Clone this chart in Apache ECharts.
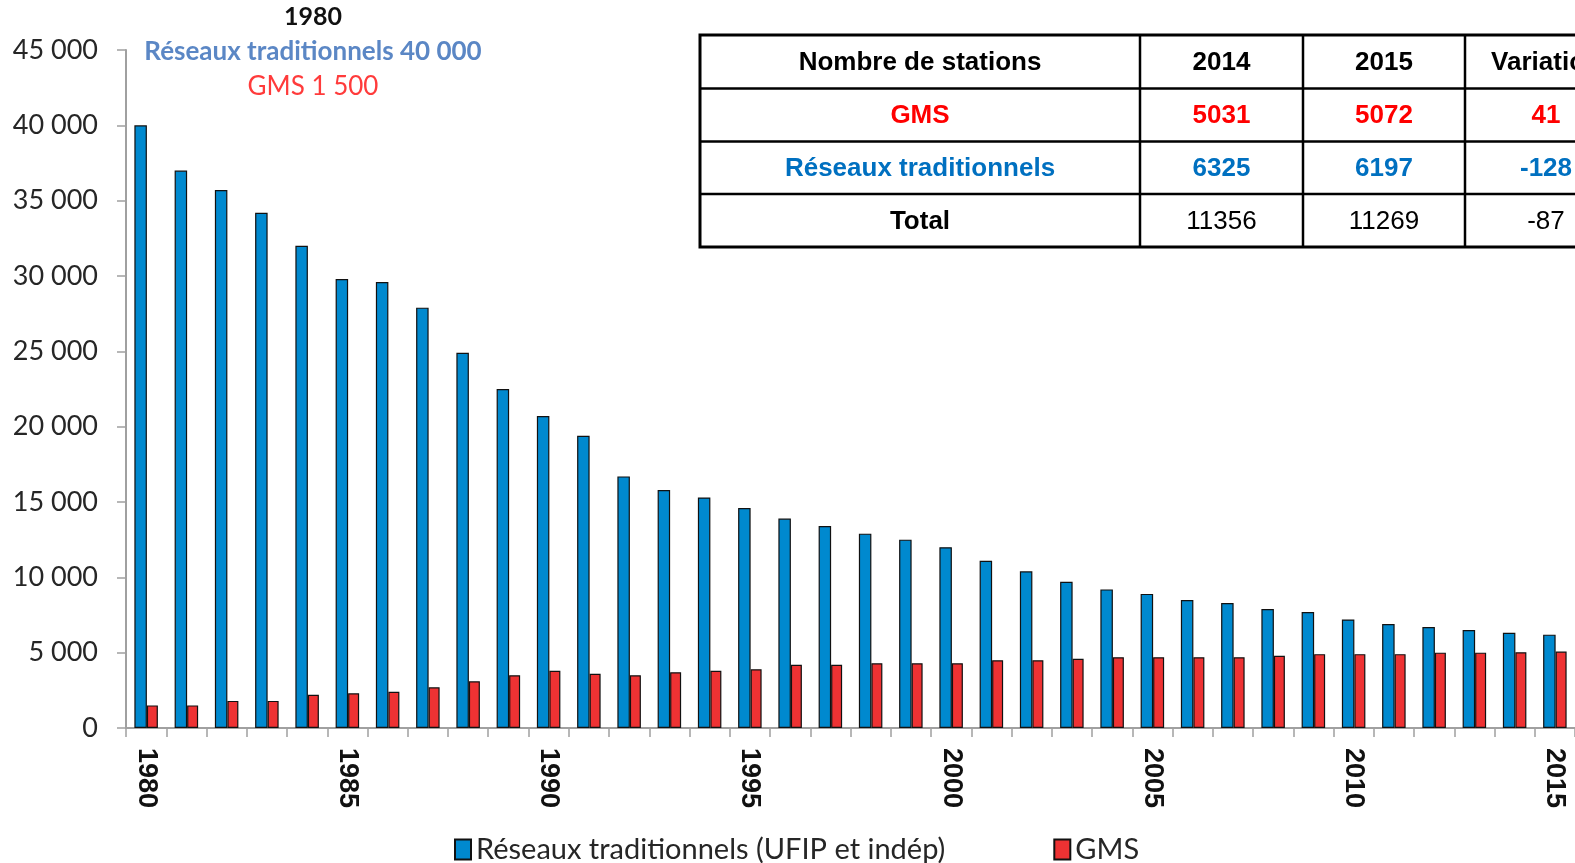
<!DOCTYPE html>
<html>
<head>
<meta charset="utf-8">
<title>Nombre de stations</title>
<script src="https://cdn.jsdelivr.net/npm/echarts@6/dist/echarts.min.js"></script>
<style>
  html, body { margin: 0; padding: 0; background: #fff; }
  #chart { width: 1575px; height: 863px; }
</style>
</head>
<body>
<div id="chart"></div>
<script>
// années 1980 -> 2015
const years = []
for (let y = 1980; y <= 2015; y++) years.push(String(y))

// réseaux traditionnels (UFIP et indép)
const reseaux = [40000, 37000, 35700, 34200, 32000, 29800, 29600, 27900, 24900, 22500,
  20700, 19400, 16700, 15800, 15300, 14600, 13900, 13400, 12900, 12500,
  12000, 11100, 10400, 9700, 9200, 8900, 8500, 8300, 7900, 7700,
  7200, 6900, 6700, 6500, 6325, 6197]

// grandes et moyennes surfaces
const gms = [1500, 1500, 1800, 1800, 2200, 2300, 2400, 2700, 3100, 3500,
  3800, 3600, 3500, 3700, 3800, 3900, 4200, 4200, 4300, 4300,
  4300, 4500, 4500, 4600, 4700, 4700, 4700, 4700, 4800, 4900,
  4900, 4900, 5000, 5000, 5031, 5072]

// tableau en haut à droite
const tableHeader = ['Nombre de stations', '2014', '2015', 'Variation']
const tableRowGms = ['GMS', '5031', '5072', '41']
const tableRowReseaux = ['Réseaux traditionnels', '6325', '6197', '-128']
const tableRowTotal = ['Total', '11356', '11269', '-87']

const BLUE = '#0089CF'
const RED = '#EE3233'

const chart = echarts.init(document.getElementById('chart'))

// construction du tableau avec des éléments graphic
function buildTable() {
  const colX = [700, 1140, 1303, 1465, 1627]
  const rowY = [35, 88.5, 141.5, 194, 247]
  const els = []
  const rows = [
    { cells: tableHeader, colors: ['#000', '#000', '#000', '#000'], weights: ['bold', 'bold', 'bold', 'bold'] },
    { cells: tableRowGms, colors: ['#FF0000', '#FF0000', '#FF0000', '#FF0000'], weights: ['bold', 'bold', 'bold', 'bold'] },
    { cells: tableRowReseaux, colors: ['#0070C0', '#0070C0', '#0070C0', '#0070C0'], weights: ['bold', 'bold', 'bold', 'bold'] },
    { cells: tableRowTotal, colors: ['#000', '#000', '#000', '#000'], weights: ['bold', 'normal', 'normal', 'normal'] },
  ]
  // fond blanc
  els.push({
    type: 'rect',
    shape: { x: colX[0], y: rowY[0], width: colX[4] - colX[0], height: rowY[4] - rowY[0] },
    style: { fill: '#fff', stroke: '#000', lineWidth: 3 },
  })
  // lignes horizontales
  for (let i = 1; i < rowY.length - 1; i++) {
    els.push({
      type: 'line',
      shape: { x1: colX[0], y1: rowY[i], x2: colX[4], y2: rowY[i] },
      style: { stroke: '#000', lineWidth: 2.5 },
    })
  }
  // lignes verticales
  for (let j = 1; j < colX.length - 1; j++) {
    els.push({
      type: 'line',
      shape: { x1: colX[j], y1: rowY[0], x2: colX[j], y2: rowY[4] },
      style: { stroke: '#000', lineWidth: 2.5 },
    })
  }
  rows.forEach((row, i) => {
    row.cells.forEach((txt, j) => {
      els.push({
        type: 'text',
        x: (colX[j] + colX[j + 1]) / 2,
        y: (rowY[i] + rowY[i + 1]) / 2 + 1,
        style: {
          text: txt,
          fill: row.colors[j],
          font: row.weights[j] + ' 26px "Liberation Sans", Arial, sans-serif',
          align: 'center',
          verticalAlign: 'middle',
        },
      })
    })
  })
  return els
}

const option = {
  animation: false,
  grid: {
    left: 126,
    right: 0,
    top: 50,
    bottom: 135,
    containLabel: false,
  },
  legend: {
    left: 449,
    top: 830,
    icon: 'rect',
    itemWidth: 16,
    itemHeight: 20,
    itemGap: 108,
    textStyle: {
      fontFamily: 'Lato, "Open Sans", sans-serif',
      fontSize: 29,
      color: '#262626',
    },
    data: ['Réseaux traditionnels (UFIP et indép)', 'GMS'],
  },
  xAxis: {
    type: 'category',
    data: years,
    boundaryGap: true,
    axisLine: { lineStyle: { color: '#A0A0A0', width: 2 } },
    axisTick: {
      show: true,
      interval: 0,
      length: 9,
      lineStyle: { color: '#A0A0A0', width: 1.5 },
    },
    axisLabel: {
      interval: 4,
      rotate: -90,
      margin: 20,
      color: '#111',
      fontSize: 27,
      fontWeight: 'bold',
      fontFamily: '"Liberation Sans", Arial, sans-serif',
    },
  },
  yAxis: {
    type: 'value',
    min: 0,
    max: 45000,
    interval: 5000,
    splitLine: { show: false },
    axisLine: { show: true, lineStyle: { color: '#A0A0A0', width: 2 } },
    axisTick: { show: true, length: 9, lineStyle: { color: '#A0A0A0', width: 1.5 } },
    axisLabel: {
      margin: 28,
      color: '#262626',
      fontSize: 27,
      fontFamily: 'Lato, "Open Sans", sans-serif',
      formatter(v) {
        return String(v).replace(/\B(?=(\d{3})+(?!\d))/g, ' ')
      },
    },
  },
  series: [
    {
      name: 'Réseaux traditionnels (UFIP et indép)',
      type: 'bar',
      data: reseaux,
      barWidth: 12.5,
      barGap: '0%',
      itemStyle: { color: BLUE, borderColor: '#111', borderWidth: 1.2 },
    },
    {
      name: 'GMS',
      type: 'bar',
      data: gms,
      barWidth: 11,
      barGap: '0%',
      itemStyle: { color: RED, borderColor: '#111', borderWidth: 1.2 },
    },
  ],
  graphic: [
    {
      type: 'text',
      x: 313,
      y: 17,
      style: {
        text: '1980',
        fill: '#111',
        font: 'bold 25px Lato, "Open Sans", sans-serif',
        align: 'center',
        verticalAlign: 'middle',
      },
    },
    {
      type: 'text',
      x: 313,
      y: 52,
      style: {
        text: 'Réseaux traditionnels 40 000',
        fill: '#5B87C5',
        font: 'bold 26px Lato, "Open Sans", sans-serif',
        align: 'center',
        verticalAlign: 'middle',
      },
    },
    {
      type: 'text',
      x: 313,
      y: 87,
      style: {
        text: 'GMS 1 500',
        fill: '#FF3B3B',
        font: '26px Lato, "Open Sans", sans-serif',
        align: 'center',
        verticalAlign: 'middle',
      },
    },
  ].concat(buildTable()),
}

chart.setOption(option)
</script>
</body>
</html>
